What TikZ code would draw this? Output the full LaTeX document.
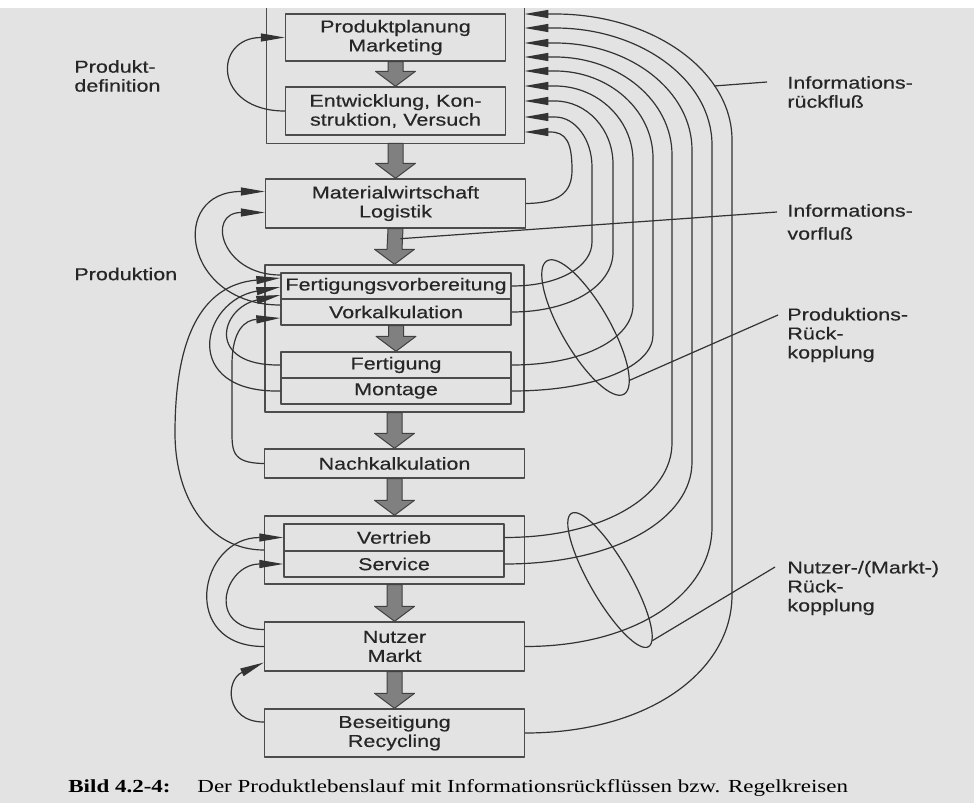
\documentclass[tikz,border=0pt]{standalone}
\usepackage{fontspec}
\setmainfont{Liberation Sans}[FakeStretch=1.25,FakeBold=0.4]
\newfontfamily\capfont{Liberation Serif}[FakeStretch=1.25]
\usetikzlibrary{calc,shapes.geometric,arrows.meta}

\tikzset{
  frame/.style={draw=black!70, line width=0.7pt},
  box/.style={frame, inner sep=0pt, align=center, text=black!85, minimum width=130pt},
  slim/.style={box, minimum width=110pt},
  split/.style={box, minimum width=115pt, minimum height=13pt},
  fb/.style={draw=black!80, line width=0.6pt},
  fbarr/.style={fb, -{Triangle[length=12pt,width=4pt]}},
  flow/.style={fill=black!50, draw=black!75, line width=0.5pt},
  loopring/.style={fb, ellipse, inner sep=0pt, rotate=-60},
  lab/.style={anchor=west, align=left, inner sep=0pt, text=black!85},
}

\begin{document}
\begin{tikzpicture}[x=0.5pt, y=-0.5pt, font=\fontsize{8.6}{9.5}\selectfont, line join=round]
\fill[white] (0,0) rectangle (974,803);
\fill[black!11] (0,8) rectangle (974,803);
\useasboundingbox (0,0) rectangle (974,803);

% Produktdefinition
\node[draw=none, inner sep=0pt, minimum width=128.5pt, minimum height=67.5pt] (def) at (395.5,75.5) {};
\draw[frame] (def.north west) |- (def.south east) -- (def.north east);
\node[slim, minimum height=23.5pt] (plan) at (395.5,37.5) {Produktplanung\\Marketing};
\node[slim, minimum height=24pt] (entw) at (395.5,111) {Entwicklung, Kon-\\struktion, Versuch};

\node[box, minimum height=24.5pt] (mat) at (395.5,203.5) {Materialwirtschaft\\Logistik};

% Produktion
\node[box, minimum width=129.5pt, minimum height=73.5pt] (prod) at (394.5,338.5) {};
\node[split] (fvo) at (396,286) {Fertigungsvorbereitung};
\node[split] (fvu) at (396,312) {Vorkalkulation};
\node[split] (fert) at (396,365) {Fertigung};
\node[split] (mont) at (396,391) {Montage};

\node[box, minimum height=14.5pt] (nach) at (394.5,463.5) {Nachkalkulation};

\node[box, minimum height=34pt] (vgrp) at (394.5,550) {};
\node[slim, minimum height=13.5pt] (vert) at (394,537.5) {Vertrieb};
\node[slim, minimum height=13pt] (serv) at (394,564) {Service};

\node[box, minimum height=24.5pt] (nutz) at (394.5,646.5) {Nutzer\\Markt};
\node[box, minimum height=24pt] (bes) at (394.5,733) {Beseitigung\\Recycling};

% dicke Pfeile
\foreach \a/\b in {plan/entw, def/mat, mat/prod, fvu/fert, prod/nach, nach/vgrp, vgrp/nutz, nutz/bes}
  \filldraw[flow] ($(\a.south)+(-7.5,0)$) -- ($(\b.north)+(-7.5,-15)$) -- ($(\b.north)+(-20,-15)$)
    -- (\b.north) -- ($(\b.north)+(20,-15)$) -- ($(\b.north)+(7.5,-15)$) -- ($(\a.south)+(7.5,0)$) -- cycle;

% Eingaenge rechts an der Produktdefinition
\foreach \i/\y in {1/14,2/28,3/43,4/57,5/71,6/86,7/101,8/117,9/132}
  \coordinate (r\i) at (def.east |- 0,\y);

% Informationsrueckfluss
\foreach \src/\xv/\yb/\yt/\i in {fvo/592/242/167/8, fvu/613/252/164/7, fert/633/305/161/6, mont/653/335/158/5,
    vert/672/443/155/4, serv/692/462/150/3, nutz/712/527/145/2, bes/732/595/140/1}{
  \coordinate (kb) at (\src.east -| \xv,0);
  \coordinate (ht) at (r\i -| 555,0);
  \coordinate (kt) at (r\i -| \xv,0);
  \draw[fbarr] (\src.east) .. controls ($(\src.east)!0.6!(kb)$) and ($(\xv,\yb)!0.55!(kb)$) .. (\xv,\yb)
    -- (\xv,\yt) .. controls ($(\xv,\yt)!0.55!(kt)$) and ($(ht)!0.55!(kt)$) .. (ht) -- (r\i);
}
\draw[fbarr] (mat.east) .. controls (560,203) and (572,192) .. (572,170)
  .. controls (572,142) and (566,132) .. (550,132) -- (r9);

% Rueckkopplungen links
\draw[fbarr] (entw.west) .. controls +(-72,0) and +(-72,0) .. (plan.west);
\draw[fbarr] ($(fvu.west)+(0,-7)$) .. controls +(-97,0) and +(-97,0) .. ($(mat.west)+(0,-12)$);
\draw[fbarr] ($(fvo.west)+(0,-11)$) .. controls +(-59,0) and +(-59,0) .. ($(mat.west)+(0,9)$);
\draw[fbarr] (vgrp.west) .. controls (210,550) and (175,500) .. (175,433)
  .. controls (175,340) and (200,285) .. ($(fvo.west)+(0,-8)$);
\draw[fbarr] (mont.west) .. controls (180,393) and (200,301) .. ($(fvo.west)+(0,1)$);
\draw[fbarr] (fert.west) .. controls (205,366) and (220,308) .. ($(fvo.west)+(0,9)$);
\draw[fbarr] (nach.west) .. controls (230,463) and (232,450) .. (232,425) -- (232,365)
  .. controls (232,330) and (245,320) .. ($(fvu.west)+(0,6)$);
\draw[fbarr] (nutz.west) .. controls +(-85,0) and +(-85,0) .. (vert.west);
\draw[fbarr] ($(nutz.west)+(0,-17)$) .. controls +(-59,0) and +(-59,0) .. (serv.west);
\draw[fbarr] ($(bes.west)+(0,-11)$) .. controls (225,722) and (225,680) .. ($(nutz.west)+(0,16)$);

% Schleifen
\node[loopring, minimum width=77pt, minimum height=24pt] (loop1) at (585.5,327.5) {};
\node[loopring, minimum width=77pt, minimum height=20pt] (loop2) at (610,580) {};

% Beschriftungen
\node[lab] (pdef) at (74,76) {Produkt-\\definition};
\node[lab] (prdn) at (74,274) {Produktion};
\node[lab] (rfl) at (787,92) {Informations-\\rückfluß};
\node[lab] (vfl) at (787,222) {Informations-\\[2pt]vorfluß};
\node[lab] (prk) at (787,335) {Produktions-\\Rück-\\kopplung};
\node[lab] (nrk) at (787,588) {Nutzer-/(Markt-)\\Rück-\\kopplung};

\coordinate (rfa) at (714,86);
\coordinate (rfb) at (767,82);
\coordinate (vfa) at ($(mat.south)+(5,10)$);
\coordinate (vfb) at (777,212);
\coordinate (pkb) at (778,315);
\coordinate (nkb) at (775,567);
\draw[fb] (rfa) -- (rfb);
\draw[fb] (vfa) -- (vfb);
\draw[fb] (loop1.10) -- (pkb);
\draw[fb] (loop2.5) -- (nkb);

\node[anchor=base west, inner sep=0pt, font=\capfont\fontsize{9.2}{11}\selectfont\bfseries] (bild) at (68,792) {Bild 4.2-4:};
\node[anchor=base west, inner sep=0pt, font=\capfont\fontsize{9.2}{11}\selectfont] (titel) at (197,792)
  {Der Produktlebenslauf mit Informationsrückflüssen bzw. Regelkreisen};
\end{tikzpicture}
\end{document}
